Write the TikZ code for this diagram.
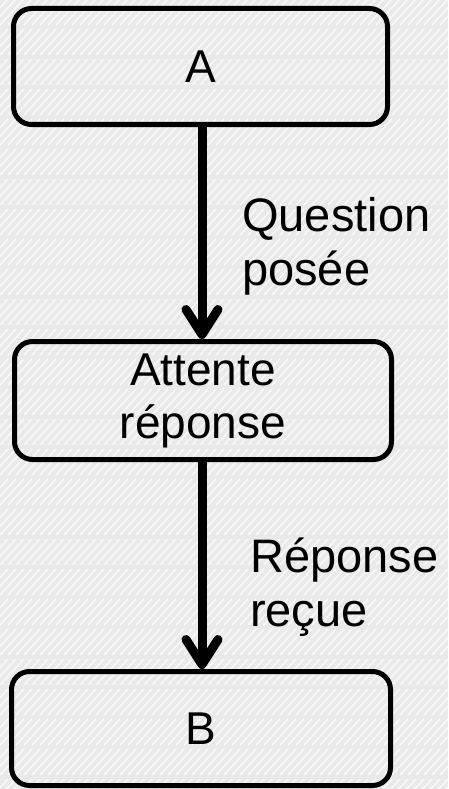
\documentclass[tikz,border=0pt]{standalone}
\usepackage{fontspec}
\setmainfont{Liberation Sans}
\usetikzlibrary{arrows.meta}
\definecolor{paper}{RGB}{233,233,233}
\tikzset{
  stepbox/.style={draw=black, line width=5pt, rounded corners=18pt,
    inner sep=0pt, align=center, font=\fontsize{46}{53}\selectfont},
  flow/.style={draw=black, line width=9pt,
    -{Straight Barb[length=25pt,width=32pt,round]}},
  edgelabel/.style={inner sep=0pt, anchor=base west, align=left,
    font=\fontsize{47}{54}\selectfont},
  hatch/.style={draw=white, line width=1.4pt, opacity=0.75}
}
\begin{document}
\begin{tikzpicture}[x=1pt, y=-1pt]
\useasboundingbox (0,0) rectangle (448,789);
% paper background with light diagonal hatching in bands
\fill[paper] (0,0) rectangle (448,789);
\begin{scope}
  \clip (0,0) rectangle (448,789);
  \foreach \r in {0,...,26} {
    \foreach \c in {-4,...,57} {
      \draw[hatch] (\c*8, \r*30+25) -- ++(24,-26);
    }
  }
\end{scope}

% states
\node[stepbox, minimum width=374pt, minimum height=116pt] (A) at (200.5,66.5) {A};
\node[stepbox, minimum width=377pt, minimum height=118pt] (R) at (203,400.5) {Attente\\réponse};
\node[stepbox, minimum width=379pt, minimum height=114pt] (B) at (201,728.5) {B};

% transitions
\coordinate (ax) at (202,0);
\draw[flow] (A.south -| ax) -- (R.north -| ax);
\draw[flow] (R.south -| ax) -- (B.north -| ax);

% labels (anchored on the baseline of their last line)
\node[edgelabel] (q) at (242,285) {Question\\posée};
\node[edgelabel] (p) at (250,626) {Réponse\\reçue};
\end{tikzpicture}
\end{document}
